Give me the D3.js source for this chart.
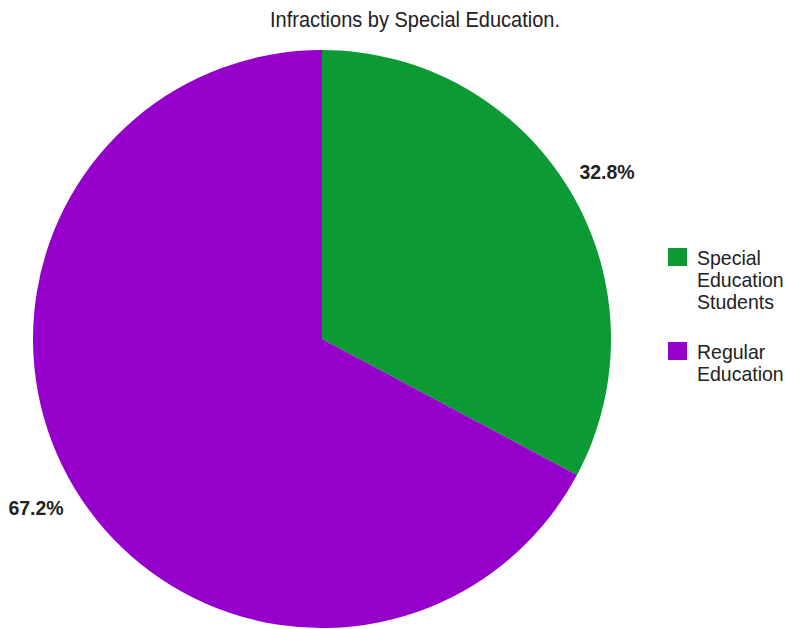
<!DOCTYPE html>
<html>
<head>
<meta charset="utf-8">
<script src="https://cdn.jsdelivr.net/npm/d3@7"></script>
<style>
  html, body { margin: 0; padding: 0; background: #fff; }
  svg { display: block; font-family: "Liberation Sans", Arial, sans-serif; }
</style>
</head>
<body>
<svg id="chart" width="786" height="629"></svg>
<script>
// Share of infractions by student group
const categories = ["Special Education Students", "Regular Education"];
const legendLines = [["Special", "Education", "Students"], ["Regular", "Education"]];
const values = [32.8, 67.2];
const colors = ["#0b9a34", "#9500cb"];

const svg = d3.select("#chart");
const cx = 322, cy = 339, r = 289;
const textColor = "#222";

// Text is drawn slightly taller than wide
function stretched(sel, x, y) {
  return sel.append("g").attr("transform", `translate(${x},${y}) scale(1,1.08)`);
}

stretched(svg, 415, 27).append("text")
  .attr("text-anchor", "middle")
  .attr("font-size", 20)
  .attr("fill", textColor)
  .text("Infractions by Special Education.");

const pie = d3.pie().sort(null).value(d => d);
const arcs = pie(values);
const arc = d3.arc().innerRadius(0).outerRadius(r);

const g = svg.append("g").attr("transform", `translate(${cx},${cy})`);
g.selectAll("path").data(arcs).enter().append("path")
  .attr("d", arc)
  .attr("fill", (d, i) => colors[i]);

// Percentage labels outside the rim
const labelPos = [[607, 179], [36, 515]];
arcs.forEach((d, i) => {
  stretched(svg, labelPos[i][0], labelPos[i][1]).append("text")
    .attr("text-anchor", "middle")
    .attr("font-size", 19.5)
    .attr("font-weight", "bold")
    .attr("fill", textColor)
    .text(d.data.toFixed(1) + "%");
});

// Legend
const legendTop = [248, 342];
categories.forEach((c, i) => {
  const lg = svg.append("g").attr("transform", `translate(668,${legendTop[i]})`);
  lg.append("rect")
    .attr("width", 19).attr("height", 18)
    .attr("fill", colors[i]);
  legendLines[i].forEach((line, j) => {
    stretched(lg, 29, 17 + j * 22).append("text")
      .attr("font-size", 19.5)
      .attr("fill", textColor)
      .text(line);
  });
});
</script>
</body>
</html>
